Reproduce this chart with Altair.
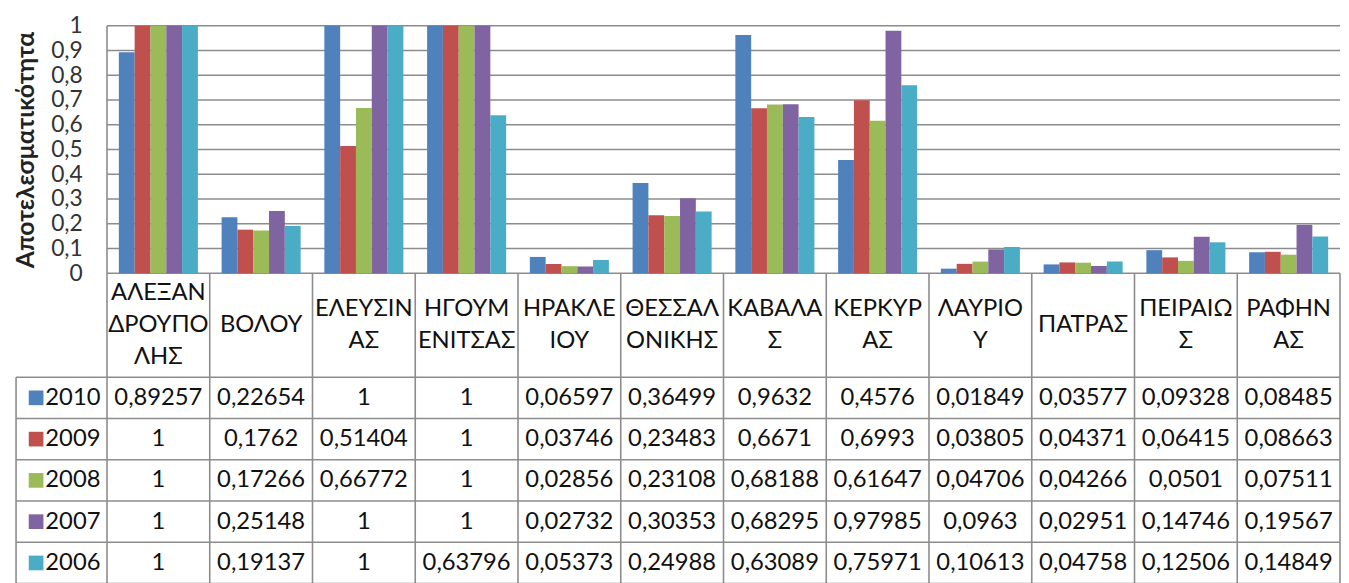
import altair as alt
import pandas as pd

# ---------------- data ----------------
categories = ["ΑΛΕΞΑΝ\nΔΡΟΥΠΟ\nΛΗΣ", "ΒΟΛΟΥ", "ΕΛΕΥΣΙΝ\nΑΣ", "ΗΓΟΥΜ\nΕΝΙΤΣΑΣ",
              "ΗΡΑΚΛΕ\nΙΟΥ", "ΘΕΣΣΑΛ\nΟΝΙΚΗΣ", "ΚΑΒΑΛΑ\nΣ", "ΚΕΡΚΥΡ\nΑΣ",
              "ΛΑΥΡΙΟ\nΥ", "ΠΑΤΡΑΣ", "ΠΕΙΡΑΙΩ\nΣ", "ΡΑΦΗΝ\nΑΣ"]
years = ["2010", "2009", "2008", "2007", "2006"]
v2010 = [0.89257, 0.22654, 1, 1, 0.06597, 0.36499, 0.9632, 0.4576, 0.01849, 0.03577, 0.09328, 0.08485]
v2009 = [1, 0.1762, 0.51404, 1, 0.03746, 0.23483, 0.6671, 0.6993, 0.03805, 0.04371, 0.06415, 0.08663]
v2008 = [1, 0.17266, 0.66772, 1, 0.02856, 0.23108, 0.68188, 0.61647, 0.04706, 0.04266, 0.0501, 0.07511]
v2007 = [1, 0.25148, 1, 1, 0.02732, 0.30353, 0.68295, 0.97985, 0.0963, 0.02951, 0.14746, 0.19567]
v2006 = [1, 0.19137, 1, 0.63796, 0.05373, 0.24988, 0.63089, 0.75971, 0.10613, 0.04758, 0.12506, 0.14849]
y_ticks = [0, 0.1, 0.2, 0.3, 0.4, 0.5, 0.6, 0.7, 0.8, 0.9, 1]
y_title = "Αποτελεσματικότητα"
colors = ["#4F81BD", "#C0504D", "#9BBB59", "#8064A2", "#4BACC6"]

series = [v2010, v2009, v2008, v2007, v2006]

# ---------------- layout (in scale units) ----------------
FONT = "Lato"
N = len(categories)
COL_W = 103.8          # px per category
PLOT_H = 250           # px for 0..1
GAP = 1.5              # Excel gap width (150%)
BAR_W = 1 / (len(years) + GAP)
BAR_START = GAP / 2 * BAR_W
HEADER_H = 0.42        # header row height in y units
ROW_H = 0.1668         # data row height in y units
HEAD_LINE = 0.13       # header line spacing in y units
LABEL_LEFT = -0.885    # left border of the legend column
SWATCH_X = -0.69
YEAR_X = -0.60
LINE_COLOR = "#8c8c8c"

xs = alt.Scale(domain=[0, N], nice=False, zero=False)
ys = alt.Scale(domain=[0, 1], nice=False, zero=False)
cs = alt.Scale(domain=years, range=colors)

yaxis = alt.Axis(
    values=y_ticks,
    labelExpr="replace(format(datum.value, '.1~f'), '.', ',')",
    labelOverlap=False,
    grid=False, ticks=False, tickSize=0, domain=False,
    labelFont=FONT, labelFontSize=23, labelColor="#333333", labelPadding=25,
    title=y_title, titleFont=FONT, titleFontSize=25, titleFontWeight="bold",
    titleColor="#222222", titlePadding=12)

# bars
bar_rows = []
for j, (yr, vals) in enumerate(zip(years, series)):
    for i, v in enumerate(vals):
        x0 = i + BAR_START + j * BAR_W
        bar_rows.append({"x": x0, "x2": x0 + BAR_W, "base": 0, "val": v, "year": yr})
bars_df = pd.DataFrame(bar_rows)

table_bottom = -HEADER_H - ROW_H * len(years)

# lines: gridlines, axis line, table grid
line_rows = []
for t in y_ticks:
    line_rows.append({"x": 0, "x2": N, "y": t, "y2": t})
for k in range(len(years) + 1):
    yy = -HEADER_H - ROW_H * k
    line_rows.append({"x": LABEL_LEFT, "x2": N, "y": yy, "y2": yy})
line_rows.append({"x": 0, "x2": 0, "y": 1, "y2": table_bottom})
for i in range(1, N + 1):
    line_rows.append({"x": i, "x2": i, "y": 0, "y2": table_bottom})
line_rows.append({"x": LABEL_LEFT, "x2": LABEL_LEFT, "y": -HEADER_H, "y2": table_bottom})
lines_df = pd.DataFrame(line_rows)

# header text, one row per text line, centred in the header row
head_rows = []
for i, lab in enumerate(categories):
    parts = lab.split("\n")
    n = len(parts)
    for k, p in enumerate(parts):
        yc = -HEADER_H / 2 + ((n - 1) / 2 - k) * HEAD_LINE
        head_rows.append({"x": i + 0.5, "y": yc, "t": p})
header_df = pd.DataFrame(head_rows)

def fmt(v):
    return f"{v:g}".replace(".", ",")

cell_rows = []
for k, (yr, vals) in enumerate(zip(years, series)):
    yc = -HEADER_H - ROW_H * (k + 0.5)
    for i, v in enumerate(vals):
        cell_rows.append({"x": i + 0.5, "y": yc, "t": fmt(v)})
cells_df = pd.DataFrame(cell_rows)

leg_df = pd.DataFrame({"year": years,
                       "y": [-HEADER_H - ROW_H * (k + 0.5) for k in range(len(years))],
                       "xs": [SWATCH_X] * len(years),
                       "xt": [YEAR_X] * len(years)})

# ---------------- layers ----------------
lines = alt.Chart(lines_df).mark_rule(color=LINE_COLOR, strokeWidth=1.6).encode(
    x=alt.X("x:Q", scale=xs, axis=None),
    x2="x2:Q",
    y=alt.Y("y:Q", scale=ys, axis=yaxis),
    y2="y2:Q",
)

bars = alt.Chart(bars_df).mark_rect().encode(
    x=alt.X("x:Q", scale=xs, axis=None),
    x2="x2:Q",
    y=alt.Y("val:Q", scale=ys, axis=yaxis),
    y2="base:Q",
    color=alt.Color("year:N", scale=cs, legend=None),
)

header = alt.Chart(header_df).mark_text(
    font=FONT, fontSize=24, align="center", baseline="middle", color="#111111").encode(
    x=alt.X("x:Q", scale=xs, axis=None),
    y=alt.Y("y:Q", scale=ys, axis=yaxis),
    text="t:N",
)

cells = alt.Chart(cells_df).mark_text(
    font=FONT, fontSize=24, align="center", baseline="middle", color="#111111").encode(
    x=alt.X("x:Q", scale=xs, axis=None),
    y=alt.Y("y:Q", scale=ys, axis=yaxis),
    text="t:N",
)

year_text = alt.Chart(leg_df).mark_text(
    font=FONT, fontSize=24, align="left", baseline="middle", color="#111111").encode(
    x=alt.X("xt:Q", scale=xs, axis=None),
    y=alt.Y("y:Q", scale=ys, axis=yaxis),
    text="year:N",
)

swatches = alt.Chart(leg_df).mark_point(shape="square", filled=True, size=220, opacity=1).encode(
    x=alt.X("xs:Q", scale=xs, axis=None),
    y=alt.Y("y:Q", scale=ys, axis=yaxis),
    color=alt.Color("year:N", scale=cs, legend=None),
)

chart = alt.layer(lines, bars, header, cells, year_text, swatches).properties(
    width=N * COL_W,
    height=PLOT_H,
    padding={"left": 6, "top": 4, "right": 0, "bottom": 0},
    background="white",
).configure_view(stroke=None)

chart.save("out.html", embed_options={"renderer": "svg", "actions": False})
